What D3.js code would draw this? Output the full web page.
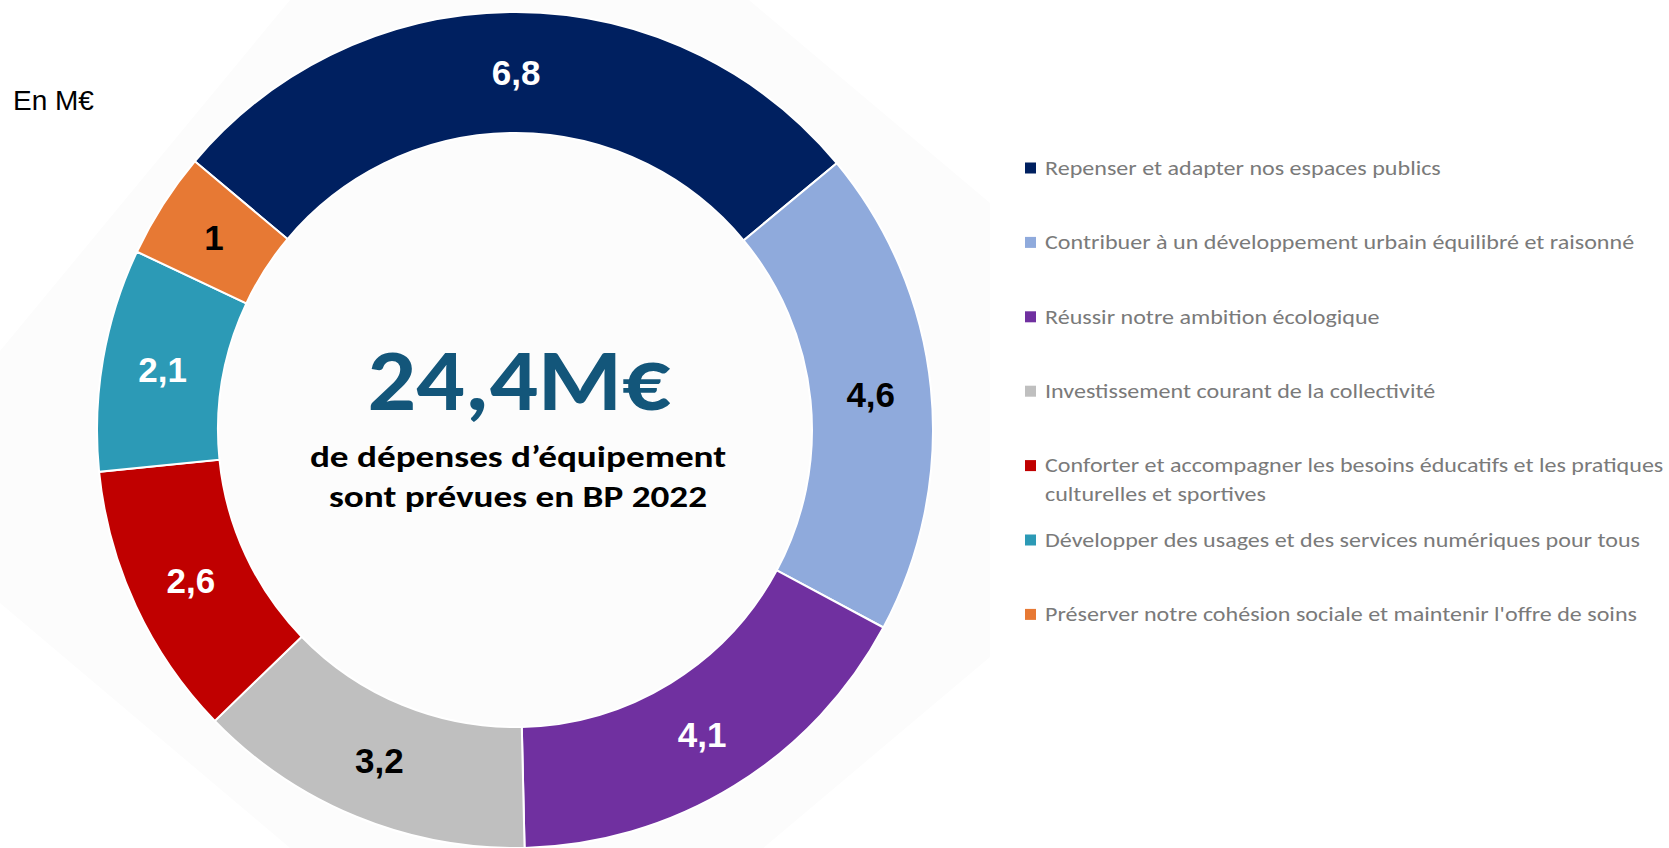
<!DOCTYPE html>
<html>
<head>
<meta charset="utf-8">
<script src="https://cdn.jsdelivr.net/npm/d3@7"></script>
<style>
  html, body { margin: 0; padding: 0; background: #ffffff; }
  svg { display: block; }
</style>
</head>
<body>
<svg width="1669" height="848"></svg>
<script>
// chart data
var categories = [
    "Repenser et adapter nos espaces publics",
    "Contribuer à un développement urbain équilibré et raisonné",
    "Réussir notre ambition écologique",
    "Investissement courant de la collectivité",
    "Conforter et accompagner les besoins éducatifs et les pratiques|culturelles et sportives",
    "Développer des usages et des services numériques pour tous",
    "Préserver notre cohésion sociale et maintenir l'offre de soins"
];
var values = [6.8, 4.6, 4.1, 3.2, 2.6, 2.1, 1];
var colors = ["#002060", "#8faadc", "#7030a0", "#bfbfbf", "#c00000", "#2c9ab6", "#e77934"];
var labelColors = ["#ffffff", "#000000", "#ffffff", "#000000", "#ffffff", "#ffffff", "#000000"];
var unitLabel = "En M€";
var totalLabel = "24,4M€";
var subLines = ["de dépenses d’équipement", "sont prévues en BP 2022"];

window.onload = function(){ drawChart() }
function drawChart() {
    var svg = d3.select("svg"),
        cx = 515,
        cy = 430,
        outerR = 418,
        innerR = 297;

    var fr = d3.formatLocale({decimal: ",", thousands: " ", grouping: [3], currency: ["", "€"]});
    var fmt = fr.format("~g");

    // faint chart-area backdrop
    svg.append("polygon")
        .attr("points", "290,0 749,0 990,203 990,657 749,860 290,848 0,603 0,351")
        .attr("fill", "#fcfcfc");

    var pie = d3.pie()
        .sort(null)
        .startAngle(-50 * Math.PI / 180)
        .endAngle(310 * Math.PI / 180);

    var arc = d3.arc()
        .innerRadius(innerR)
        .outerRadius(outerR);

    var arcs = pie(values);

    var g = svg.append("g")
        .attr("transform", "translate(" + cx + "," + cy + ")");

    g.selectAll("path")
        .data(arcs)
        .enter().append("path")
        .attr("d", arc)
        .attr("fill", function (d, i) { return colors[i]; })
        .attr("stroke", "#ffffff")
        .attr("stroke-width", 2);

    g.selectAll("text.val")
        .data(arcs)
        .enter().append("text")
        .attr("class", "val")
        .attr("transform", function (d) { return "translate(" + arc.centroid(d) + ")"; })
        .attr("text-anchor", "middle")
        .attr("dy", "0.36em")
        .style("font-family", "'Liberation Sans', Arial, sans-serif")
        .style("font-weight", "bold")
        .style("font-size", "35px")
        .style("fill", function (d, i) { return labelColors[i]; })
        .text(function (d) { return fmt(d.data); });

    // centre text (the original Calibri is wider, so stretch a little)
    svg.append("text")
        .attr("transform", "translate(519,410) scale(1.09,1)")
        .attr("text-anchor", "middle")
        .style("font-family", "Carlito, Lato, sans-serif")
        .style("font-weight", "bold")
        .style("font-size", "88px")
        .style("fill", "#13567a")
        .text(totalLabel);

    svg.selectAll("text.sub")
        .data(subLines)
        .enter().append("text")
        .attr("class", "sub")
        .attr("transform", function (d, i) { return "translate(518," + (467 + i * 40) + ") scale(1.2,1)"; })
        .attr("text-anchor", "middle")
        .style("font-family", "Carlito, Lato, sans-serif")
        .style("font-weight", "bold")
        .style("font-size", "31px")
        .style("fill", "#000000")
        .text(function (d) { return d; });

    svg.append("text")
        .attr("x", 13)
        .attr("y", 110)
        .style("font-family", "'Liberation Sans', Arial, sans-serif")
        .style("font-size", "28px")
        .style("fill", "#000000")
        .text(unitLabel);

    // legend
    var legend = svg.append("g")
        .attr("class", "legend")
        .selectAll("g")
        .data(categories)
        .enter().append("g")
        .attr("transform", function (d, i) { return "translate(1025," + (168 + i * 74.4) + ")"; });

    legend.append("rect")
        .attr("x", 0)
        .attr("y", -5.5)
        .attr("width", 11)
        .attr("height", 11)
        .attr("fill", function (d, i) { return colors[i]; });

    legend.append("text")
        .attr("transform", "translate(20,0) scale(1.235,1)")
        .style("font-family", "Carlito, Lato, sans-serif")
        .style("font-size", "19.5px")
        .style("fill", "#7a7a7a")
        .selectAll("tspan")
        .data(function (d) { return d.split("|"); })
        .enter().append("tspan")
        .attr("x", 0)
        .attr("y", function (d, i) { return i * 29; })
        .attr("dy", "0.35em")
        .text(function (d) { return d; });
}
</script>
</body>
</html>
